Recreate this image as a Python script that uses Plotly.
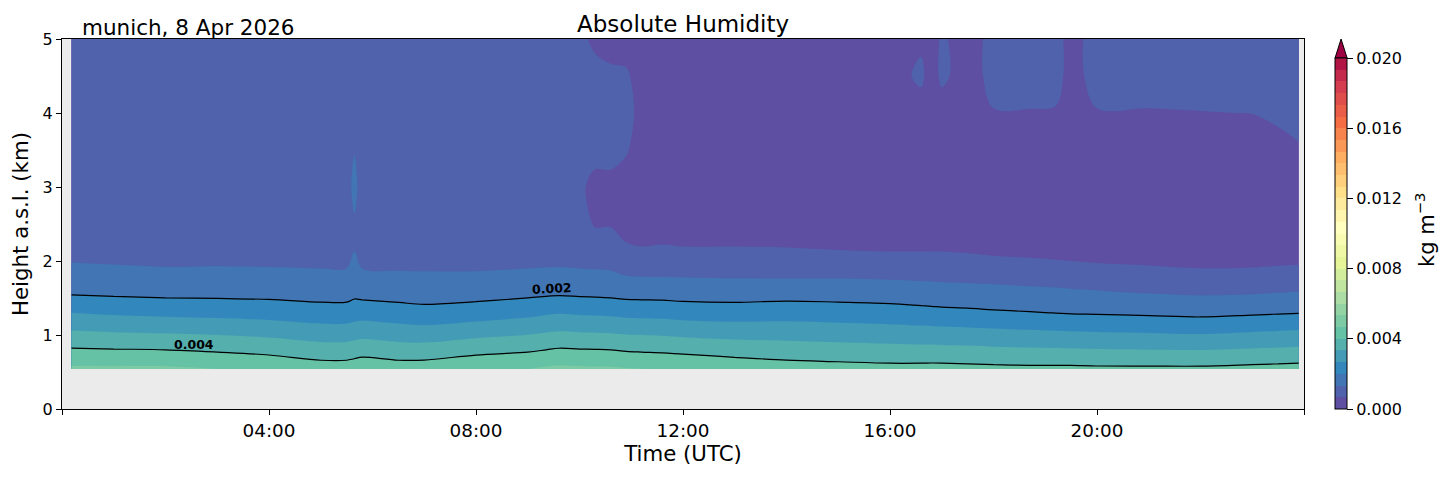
import numpy as np
import plotly.graph_objects as go
from plotly.colors import sample_colorscale

# profile times (hours UTC) and row heights (km a.s.l.)
time_h = [0.18, 1, 2, 3, 4, 5, 5.5, 5.65, 5.8, 6.5, 7, 8, 9, 9.6, 10,
          10.3, 10.6, 10.9, 11.2, 11.6, 12, 13, 14, 15, 16, 16.6, 16.8, 17,
          17.5, 18, 18.7, 19.2, 19.5, 20, 21, 22, 23, 23.5, 23.9]
height_km = [0.54, 0.8, 1.05, 1.3, 1.55, 1.8, 2.1, 2.5, 3.0, 3.5, 4.0, 4.5, 5.0]

# absolute humidity in g m-3, one list per height row (same order as time_h)
ah_054 = [4.78, 4.78, 4.78, 4.67, 4.54, 4.32, 4.32, 4.37, 4.43, 4.32, 4.34, 4.56, 4.66, 4.80, 4.78,
          4.77, 4.76, 4.71, 4.68, 4.64, 4.58, 4.44, 4.30, 4.25, 4.20, 4.21, 4.22, 4.22,
          4.19, 4.16, 4.14, 4.14, 4.14, 4.12, 4.12, 4.12, 4.18, 4.21, 4.24]
ah_080 = [4.06, 4.03, 4.00, 3.91, 3.80, 3.62, 3.62, 3.68, 3.73, 3.62, 3.61, 3.79, 3.91, 4.06, 4.03,
          4.02, 4.00, 3.94, 3.91, 3.88, 3.83, 3.72, 3.65, 3.59, 3.54, 3.52, 3.52, 3.51,
          3.49, 3.45, 3.42, 3.40, 3.39, 3.36, 3.34, 3.32, 3.39, 3.43, 3.46]
ah_105 = [3.36, 3.30, 3.25, 3.19, 3.10, 2.95, 2.95, 3.01, 3.05, 2.95, 2.90, 3.06, 3.20, 3.34, 3.30,
          3.28, 3.26, 3.21, 3.19, 3.16, 3.10, 3.03, 3.01, 2.96, 2.91, 2.87, 2.86, 2.84,
          2.81, 2.77, 2.72, 2.69, 2.67, 2.64, 2.60, 2.55, 2.64, 2.68, 2.72]
ah_130 = [2.67, 2.58, 2.51, 2.46, 2.39, 2.27, 2.27, 2.35, 2.38, 2.27, 2.20, 2.32, 2.49, 2.63, 2.58,
          2.56, 2.53, 2.47, 2.45, 2.43, 2.38, 2.33, 2.38, 2.33, 2.28, 2.21, 2.19, 2.16,
          2.13, 2.08, 2.03, 1.99, 1.96, 1.94, 1.89, 1.84, 1.91, 1.95, 1.98]
ah_155 = [1.98, 1.93, 1.88, 1.87, 1.85, 1.80, 1.80, 1.88, 1.84, 1.79, 1.76, 1.79, 1.88, 1.95, 1.92,
          1.90, 1.87, 1.82, 1.81, 1.80, 1.76, 1.74, 1.78, 1.76, 1.72, 1.67, 1.65, 1.63,
          1.61, 1.58, 1.53, 1.50, 1.47, 1.43, 1.35, 1.30, 1.33, 1.37, 1.40]
ah_180 = [1.61, 1.56, 1.51, 1.52, 1.50, 1.47, 1.47, 1.63, 1.48, 1.43, 1.41, 1.42, 1.49, 1.53, 1.50,
          1.47, 1.42, 1.33, 1.31, 1.30, 1.29, 1.27, 1.26, 1.26, 1.23, 1.20, 1.19, 1.17,
          1.15, 1.13, 1.08, 1.05, 1.02, 0.97, 0.90, 0.83, 0.86, 0.90, 0.93]
ah_210 = [1.15, 1.11, 1.07, 1.09, 1.08, 1.06, 1.06, 1.34, 1.04, 1.01, 1.03, 0.99, 1.02, 1.04, 1.00,
          1.00, 1.05, 0.77, 0.72, 0.74, 0.72, 0.72, 0.71, 0.69, 0.68, 0.68, 0.68, 0.68,
          0.67, 0.62, 0.57, 0.52, 0.49, 0.44, 0.40, 0.35, 0.35, 0.38, 0.40]
ah_250 = [1.05, 1.03, 1.02, 1.03, 1.03, 1.05, 1.05, 1.25, 1.03, 1.00, 1.00, 0.97, 0.97, 0.95, 0.90,
          0.62, 0.62, 0.50, 0.50, 0.50, 0.50, 0.50, 0.50, 0.50, 0.50, 0.50, 0.50, 0.50,
          0.50, 0.50, 0.50, 0.50, 0.50, 0.50, 0.50, 0.50, 0.50, 0.50, 0.50]
ah_300 = [1.00, 1.00, 0.98, 0.99, 1.00, 1.05, 1.00, 1.55, 1.00, 0.98, 0.97, 0.95, 0.93, 0.90, 0.78,
          0.50, 0.55, 0.50, 0.50, 0.50, 0.50, 0.50, 0.50, 0.50, 0.50, 0.50, 0.50, 0.50,
          0.50, 0.50, 0.50, 0.50, 0.50, 0.50, 0.50, 0.50, 0.50, 0.50, 0.52]
ah_350 = [0.98, 0.98, 0.96, 0.97, 0.98, 1.02, 1.00, 1.30, 1.00, 0.96, 0.95, 0.94, 0.92, 0.90, 0.85,
          0.85, 0.80, 0.70, 0.50, 0.50, 0.50, 0.50, 0.50, 0.50, 0.50, 0.50, 0.50, 0.50,
          0.50, 0.50, 0.50, 0.50, 0.50, 0.50, 0.50, 0.52, 0.55, 0.58, 0.64]
ah_400 = [0.97, 0.96, 0.95, 0.95, 0.96, 0.98, 0.97, 1.00, 0.97, 0.95, 0.94, 0.93, 0.91, 0.89, 0.88,
          0.90, 0.88, 0.85, 0.50, 0.50, 0.50, 0.50, 0.50, 0.50, 0.50, 0.50, 0.50, 0.50,
          0.50, 0.65, 0.65, 0.64, 0.50, 0.65, 0.65, 0.66, 0.67, 0.72, 0.76]
ah_450 = [0.95, 0.94, 0.92, 0.93, 0.94, 0.95, 0.95, 0.95, 0.95, 0.93, 0.92, 0.92, 0.90, 0.88, 0.85,
          0.85, 0.75, 0.72, 0.50, 0.50, 0.50, 0.50, 0.50, 0.50, 0.50, 0.74, 0.50, 0.74,
          0.50, 0.78, 0.80, 0.78, 0.55, 0.78, 0.78, 0.78, 0.78, 0.80, 0.80]
ah_500 = [0.92, 0.90, 0.85, 0.90, 0.92, 0.92, 0.92, 0.92, 0.92, 0.90, 0.90, 0.90, 0.88, 0.86, 0.80,
          0.55, 0.50, 0.50, 0.50, 0.50, 0.50, 0.50, 0.50, 0.50, 0.50, 0.60, 0.50, 0.72,
          0.50, 0.78, 0.80, 0.78, 0.55, 0.80, 0.80, 0.80, 0.80, 0.80, 0.80]

rows = [ah_054, ah_080, ah_105, ah_130, ah_155, ah_180, ah_210,
        ah_250, ah_300, ah_350, ah_400, ah_450, ah_500]
ah = np.array(rows) / 1000.0  # g m-3 -> kg m-3

cb_ticks = [0.0, 0.004, 0.008, 0.012, 0.016, 0.020]
hour_ticks = [4, 8, 12, 16, 20]
hour_labels = ['04:00', '08:00', '12:00', '16:00', '20:00']

# Spectral_r cut into 30 flat steps (band i gets the colour at i/30)
N_BANDS = 30
spectral_r = ['#5e4fa2', '#3288bd', '#66c2a5', '#abdda4', '#e6f598', '#ffffbf',
              '#fee08b', '#fdae61', '#f46d43', '#d53e4f', '#9e0142']
band_cols = sample_colorscale(spectral_r, [i / N_BANDS for i in range(N_BANDS)])
steps = []
for i, c in enumerate(band_cols):
    steps.append([i / N_BANDS, c])
    steps.append([(i + 1) / N_BANDS, c])

FONT = 'DejaVu Sans'

fig = go.Figure()

fig.add_trace(go.Contour(
    x=time_h, y=height_km, z=ah,
    zmin=0, zmax=0.02, colorscale=steps,
    contours=dict(start=0, end=0.02, size=0.02 / N_BANDS, coloring='fill', showlines=False),
    line=dict(width=0), showscale=False,
    hoverinfo='skip',
))

fig.add_trace(go.Contour(
    x=time_h, y=height_km, z=ah,
    contours=dict(start=0.002, end=0.004, size=0.002, coloring='none'),
    line=dict(color='black', width=1.2),
    showscale=False, hoverinfo='skip',
))

# colour bar only (point sits outside the axis ranges)
fig.add_trace(go.Scatter(
    x=[-5], y=[-5], mode='markers', hoverinfo='skip',
    marker=dict(color=[0.0], colorscale=steps, cmin=0, cmax=0.02, showscale=True,
                colorbar=dict(
                    x=1.0250, xanchor='left', xpad=0, ypad=0,
                    y=0, yanchor='bottom', len=0.9486, lenmode='fraction',
                    thickness=12, outlinewidth=1, outlinecolor='black',
                    tickvals=cb_ticks, ticktext=['%.3f' % v for v in cb_ticks],
                    ticks='outside', ticklen=6, tickcolor='black',
                    tickfont=dict(size=16, color='black'),
                )),
))

# extend-max arrow on top of the colour bar
fig.add_shape(type='path', xref='paper', yref='paper',
              path='M 1.0250,0.9486 L 1.0347,0.9486 L 1.02985,1.0 Z',
              fillcolor=spectral_r[-1], line=dict(color='black', width=1))

fig.add_annotation(x=1.0974, y=0.484, xref='paper', yref='paper',
                   xanchor='center', yanchor='middle',
                   text='kg m<sup>\u22123</sup>', textangle=-90, showarrow=False,
                   font=dict(size=21, color='black'))

fig.add_annotation(x=9.46, y=1.635, text='<b>0.002</b>', showarrow=False,
                   font=dict(size=12.5, color='black'), textangle=-3)
fig.add_annotation(x=2.55, y=0.865, text='<b>0.004</b>', showarrow=False,
                   font=dict(size=12.5, color='black'))

fig.add_annotation(x=0.5, y=1.040, xref='paper', yref='paper', text='Absolute Humidity',
                   showarrow=False, yanchor='middle', font=dict(size=23, color='black'))
fig.add_annotation(x=0.0145, y=1.030, xref='paper', yref='paper', text='munich, 8 Apr 2026',
                   showarrow=False, xanchor='left', yanchor='middle',
                   font=dict(size=21.5, color='black'))

# the page body adds an 8px margin, so the figure is 8px smaller each way
fig.update_layout(
    width=1446, height=470,
    margin=dict(l=54, r=150, t=31, b=69),
    paper_bgcolor='white', plot_bgcolor='#ebebeb',
    font=dict(family=FONT, color='black'),
    showlegend=False,
    xaxis=dict(range=[0, 24], tickvals=hour_ticks, ticktext=hour_labels,
               ticks='outside', ticklen=5, tickcolor='black',
               minor=dict(tickvals=[0, 24], ticks='outside', ticklen=5, tickcolor='black'),
               showline=True, linecolor='black', linewidth=1, mirror=True,
               showgrid=False, zeroline=False, tickfont=dict(size=18.4),
               title=dict(text='Time (UTC)', font=dict(size=21.3), standoff=4)),
    yaxis=dict(range=[0, 5], tickvals=[0, 1, 2, 3, 4, 5],
               ticks='outside', ticklen=5, tickcolor='black',
               showline=True, linecolor='black', linewidth=1, mirror=True,
               showgrid=False, zeroline=False, tickfont=dict(size=16),
               title=dict(text='Height a.s.l. (km)', font=dict(size=21.3), standoff=8)),
)

fig.write_html('out.html')
